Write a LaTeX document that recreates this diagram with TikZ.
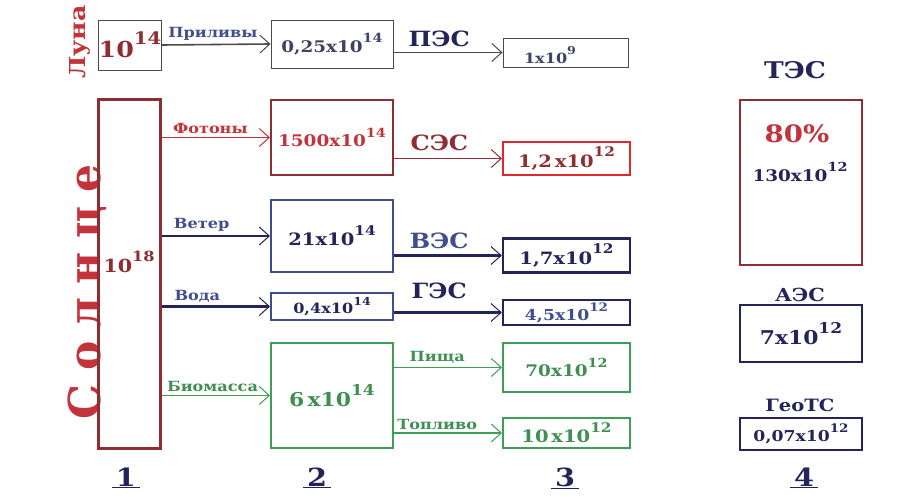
\documentclass[tikz,border=0pt]{standalone}
\usepackage{fontspec}
\setmainfont{DejaVu Serif}[FakeStretch=1.15]
\newfontfamily\sunfont{DejaVu Serif}[LetterSpace=30]
\usetikzlibrary{positioning,arrows.meta}

\definecolor{dred}{HTML}{8F2D33}
\definecolor{tred}{HTML}{C2333B}
\definecolor{bred}{HTML}{E3262B}
\definecolor{navy}{HTML}{23245A}
\definecolor{blue}{HTML}{3F4E8E}
\definecolor{green}{HTML}{3F9E55}
\definecolor{gtext}{HTML}{3F8F52}
\definecolor{boxgrey}{HTML}{4A4A4A}
\definecolor{greytext}{HTML}{3E4363}

\newcommand\fs[1]{\fontsize{#1}{#1}\selectfont}
\newcommand\pw[1]{\raisebox{.6em}{\scalebox{.78}{#1}}}

\begin{document}
\begin{tikzpicture}[x=1pt, y=-1pt, font=\bfseries,
  ebox/.style={draw, inner sep=0pt, line width=2pt},
  thin/.style={draw=boxgrey, line width=0.9pt},
  flow/.style={line width=1.6pt, -{Straight Barb[length=10pt,width=18pt,line width=1pt]}},
  lbl/.style={font=\bfseries\fs{14}, inner sep=1pt, above=2pt},
  plant/.style={font=\bfseries\fs{21}, inner sep=1pt},
  val/.style={font=\bfseries\fs{16}},
  num/.style={font=\bfseries\fs{25}, text=navy}]
\useasboundingbox[fill=white] (0,0) rectangle (897,497);

% source 1
\node[rotate=90, text=tred, font=\bfseries\fs{22}] (luna) at (80,42) {Луна};
\node[ebox, thin, text=dred, font=\bfseries\fs{22}, minimum width=60, minimum height=50] (moon) at (130,45) {10\pw{14}};
\node[rotate=90, text=tred, font=\sunfont\bfseries\fs{44}] (sunname) at (87,292) {Солнце};
\node[ebox, draw=dred, line width=3pt, minimum width=62, minimum height=348] (sun) at (129,274) {};
\node[val, text=dred, font=\bfseries\fs{18}] (sunval) at (129,262) {10\pw{18}};

% column 2
\node[ebox, thin, val, text=greytext, minimum width=122, minimum height=48] (tide) at (332,44) {0,25x10\pw{14}};
\node[ebox, draw=dred, val, text=tred, minimum width=122, minimum height=75] (foton) at (332,137.5) {1500x10\pw{14}};
\node[ebox, draw=blue, val, text=navy, font=\bfseries\fs{17}, minimum width=122, minimum height=72] (wind) at (332,236) {21x10\pw{14}};
\node[ebox, draw=blue, val, text=navy, font=\bfseries\fs{14}, minimum width=122, minimum height=27] (water) at (332,306.5) {0,4x10\pw{14}};
\node[ebox, draw=green, val, text=gtext, font=\bfseries\fs{19}, minimum width=122, minimum height=105] (bio) at (332,395.5) {6\,x10\pw{14}};

% column 3
\node[ebox, thin, minimum width=125, minimum height=29] (pes) at (565.5,52.5) {};
\node[val, text=greytext, font=\bfseries\fs{14}] (pesval) at (550,55) {1x10\pw{9}};
\node[ebox, draw=bred, val, text=dred, font=\bfseries\fs{17}, minimum width=127, minimum height=33] (ses) at (566.5,158.5) {1,2\,x10\pw{12}};
\node[ebox, draw=navy, line width=2.5pt, val, text=navy, font=\bfseries\fs{17}, minimum width=127, minimum height=34] (ves) at (566.5,255.5) {1,7x10\pw{12}\hspace{8pt}};
\node[ebox, draw=navy, line width=2.5pt, val, text=blue, font=\bfseries\fs{15}, minimum width=127, minimum height=25] (ges) at (566.5,312.5) {4,5x10\pw{12}};
\node[ebox, draw=green, val, text=gtext, font=\bfseries\fs{16}, minimum width=127, minimum height=49] (food) at (566.5,367.5) {70x10\pw{12}};
\node[ebox, draw=green, val, text=gtext, font=\bfseries\fs{17}, minimum width=127, minimum height=30] (fuel) at (566.5,433) {10\,x10\pw{12}\hspace{4pt}};

% column 4
\node[plant, text=navy, font=\bfseries\fs{23}] (tesname) at (795,70) {ТЭС};
\node[ebox, draw=dred, line width=2.5pt, minimum width=122, minimum height=165] (tes) at (801,182.5) {};
\node[text=tred, font=\bfseries\fs{24}] (tesp) at (797,134) {80\%};
\node[val, text=navy] (tesval) at (800,172) {130x10\pw{12}};
\node[plant, text=navy, font=\bfseries\fs{18}] (aesname) at (800,295) {АЭС};
\node[ebox, draw=navy, line width=2.5pt, val, text=navy, font=\bfseries\fs{19}, minimum width=122, minimum height=57] (aes) at (801,333.5) {7x10\pw{12}};
\node[plant, text=navy, font=\bfseries\fs{17}] (geoname) at (800,405) {ГеоТС};
\node[ebox, draw=navy, line width=2.5pt, val, text=navy, font=\bfseries\fs{15}, minimum width=122, minimum height=32] (geo) at (801,434) {0,07x10\pw{12}};

% flows
\draw[flow, draw=boxgrey] (moon.east) -- node[lbl, pos=.47, text=blue] {Приливы} (tide.west);
\draw[flow, draw=tred, line width=1.3pt] (sun.east |- foton.west) -- node[lbl, pos=.45, text=tred] {Фотоны} (foton.west);
\draw[flow, draw=navy, line width=2.4pt] (sun.east |- wind.west) -- node[lbl, pos=.37, text=blue] {Ветер} (wind.west);
\draw[flow, draw=navy, line width=2.4pt] (sun.east |- water.west) -- node[lbl, pos=.33, text=blue] {Вода} (water.west);
\draw[flow, draw=green, line width=1.3pt] (sun.east |- bio.west) -- node[lbl, pos=.47, text=gtext] {Биомасса} (bio.west);

\draw[flow, draw=boxgrey, line width=1.3pt] (tide.east |- pes.west) -- node[plant, above=4pt, pos=.42, text=navy] {ПЭС} (pes.west);
\draw[flow, draw=dred, line width=1.6pt] (foton.east |- ses.west) -- node[plant, above=6pt, pos=.42, text=dred] {СЭС} (ses.west);
\draw[flow, draw=navy, line width=2.4pt] (wind.east |- ves.west) -- node[plant, above=5pt, pos=.42, text=blue] {ВЭС} (ves.west);
\draw[flow, draw=navy, line width=2.4pt] (water.east |- ges.west) -- node[plant, above=12pt, pos=.42, text=navy] {ГЭС} (ges.west);
\draw[flow, draw=green, line width=1.3pt] (bio.east |- food.west) -- node[lbl, pos=.4, text=gtext] {Пища} (food.west);
\draw[flow, draw=green, line width=1.3pt] (bio.east |- fuel.west) -- node[lbl, pos=.4, text=gtext] {Топливо} (fuel.west);

% column numbers
\node[num] (n1) at (126,478) {\underline{\,1\,}};
\node[num] (n2) at (317,478) {\underline{\,2\,}};
\node[num] (n3) at (565,478) {\underline{\,3\,}};
\node[num] (n4) at (804,478) {\underline{\,4\,}};
\end{tikzpicture}
\end{document}
